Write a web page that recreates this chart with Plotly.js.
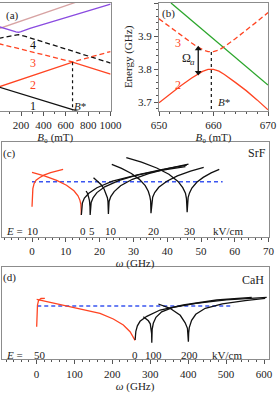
<!DOCTYPE html>
<html><head><meta charset="utf-8">
<script src="https://cdn.plot.ly/plotly-3.0.1.min.js"></script>
<style>html,body{margin:0;padding:0;background:#fff}#plot{width:279px;height:394px}</style>
</head><body><div id="plot"></div>
<script>
// ---------- Panel (a): energy levels vs B0 (mT) ----------
const aPinkB = [0, 1000],            aPinkE = [14.8, 27.5];
const aPurpleB = [0, 100, 155, 176, 200, 280, 1000];
const aPurpleE = [15.5, 14.3, 13.8, 13.65, 13.85, 14.95, 22.95];
const aLevel4B = [0, 120, 176, 230, 1000], aLevel4E = [11.65, 12.55, 12.85, 12.4, 3.5];
const aLevel3B = [0, 660, 1000],     aLevel3E = [9.9, 3.85, 7.3];
const aLevel2B = [0, 660, 1000],     aLevel2E = [-4.4, 3.8, -0.14];
const aLevel1B = [0, 1000],          aLevel1E = [-4.4, -15.7];
const aBstar = 660;
const aTicks = [0, 200, 400, 600, 800, 1000];

// ---------- Panel (b): zoom on the avoided crossing ----------
const bB = [650, 652, 654, 656, 657, 658, 659, 659.6, 660, 661, 662, 664, 666, 668, 670];
const bLevel3 = [3.952, 3.927, 3.902, 3.879, 3.868, 3.859, 3.853, 3.852, 3.853, 3.858, 3.868, 3.892, 3.917, 3.944, 3.971];
const bLevel2 = [3.698, 3.725, 3.750, 3.773, 3.784, 3.793, 3.799, 3.800, 3.799, 3.794, 3.784, 3.760, 3.735, 3.707, 3.677];
const bGreenB = [652.2, 670], bGreenE = [4.0, 3.752];
const bArrowB = 657.2, bArrowTop = 3.862, bArrowBottom = 3.790;
const bYTicks = [3.7, 3.8, 3.9, 4.0], bYText = ['3.7', '3.8', '3.9', '4'];

// ---------- Panel (c): SrF, omega (GHz) ----------
const cRedA_w = [0, 0.08, 0.25, 0.6, 1.2, 2.2, 3.5, 5.5, 7.5, 9.2];
const cRedA_h = [30, 40, 48, 53, 56.5, 59, 61.5, 64, 66, 67.4];
const cRedB_w = [0, 3.65, 7.3, 10.2, 12.4, 13.6, 14.16, 14.45, 14.6];
const cRedB_h = [64.4, 60.9, 56.4, 51.5, 45.9, 40.9, 36.6, 32.4, 21.7];
const cE0_w  = [14.6, 14.9, 15.5, 16.8, 19.2, 23.8, 30.0, 37.7, 45.4];
const cE0_h  = [21.7, 33.8, 38.6, 43.4, 49, 55.5, 60.8, 66, 70];
const cE5_w  = [16.0, 16.4, 16.7, 17.0, 17.15, 17.2, 17.5, 18.1, 19.2, 21.5, 25.8, 31.5, 38.7, 45.8];
const cE5_h  = [45.7, 43.5, 40, 36, 30, 21.7, 34.2, 39.1, 44.1, 49.9, 56.4, 62.1, 67.4, 71.5];
const cE10_w = [18.2, 19.3, 20.4, 21.28, 21.94, 22.3, 22.47, 22.56, 22.6, 22.8, 23.3, 24.3, 26.2, 29.7, 34.5, 40.4, 46.3];
const cE10_h = [59, 56, 52.2, 48, 43.2, 39, 35.4, 31.8, 22.7, 35.2, 40.1, 45.1, 50.9, 57.4, 63.1, 68.4, 72.5];
const cE20_w = [23.6, 26.5, 29.4, 31.7, 33.5, 34.4, 34.85, 35.1, 35.2, 35.4, 35.7, 36.3, 37.5, 39.9, 43.0, 46.9, 50.8];
const cE20_h = [72.4, 68.3, 63.2, 57.6, 51.1, 45.4, 40.5, 35.7, 23.4, 34.9, 39.5, 44.1, 49.4, 55.5, 60.8, 65.6, 69.4];
const cE30_w = [27.9, 32.4, 36.9, 40.5, 43.2, 44.6, 45.4, 45.7, 45.9, 46.0, 46.2, 46.6, 47.3, 48.75, 50.65, 53.0, 55.4];
const cE30_h = [79, 74.5, 68.7, 62.5, 55.3, 49, 43.5, 38.1, 24.4, 35.2, 39.4, 43.8, 48.7, 54.4, 59.3, 63.8, 67.4];
const cBlue_w = [0, 56.4], cBlue_h = [55, 55];
const cFieldLabels = ['10', '0', '5', '10', '20', '30'];

// ---------- Panel (d): CaH, omega (GHz) ----------
const dRedA_w = [0.5, 1.3, 2.6, 5.3, 11.9, 22];
const dRedA_h = [32.6, 44.3, 54.3, 58.8, 60.8, 61];
const dRedB_w = [0.5, 79.7, 167.5, 202.6, 229, 246.7, 255.4, 259.9];
const dRedB_h = [60, 53.3, 46, 40.3, 34.3, 27.6, 22.6, 19];
const dE0_w   = [260, 262, 266, 273, 290.8, 325.9, 387.3, 475.2, 567.5];
const dE0_h   = [19.3, 28, 33.5, 38, 43, 49.3, 54.3, 59.3, 62];
const dE100_w = [281.8, 288, 295, 300, 302.5, 303.5, 304, 305, 308, 315, 330, 360, 420, 500, 607];
const dE100_h = [42.6, 41, 38.5, 35.5, 31, 26, 16.6, 30, 36, 42, 47.5, 52, 56, 59.5, 62];
const dE200_w = [321.4, 352, 379, 392, 398, 399.8, 400.5, 401.2, 403, 409, 420, 445, 490, 550, 603];
const dE200_h = [55.3, 51, 44, 36.5, 31, 25, 17.6, 26, 32, 39, 45, 51, 55.5, 58.7, 61];
const dBlue_w = [2, 519], dBlue_h = [53.3, 53.3];
const dFieldLabels = ['50', '0', '100', '200'];

// ---------- styling ----------
const W = 279, H = 394;
const RED = '#ff4422', BLACK = '#111', GREEN = '#2aa52a', PURPLE = '#8a4be0', PINK = '#d7a3a3', BLUE = '#3a55f0', FRAME = '#8c8c8c';
const FONT = 'Liberation Serif, DejaVu Serif, serif';
const px = (x) => x / W, py = (y) => 1 - y / H;

function line(x, y, xa, ya, color, dash, width) {
  return {x: x, y: y, xaxis: xa, yaxis: ya, type: 'scatter', mode: 'lines',
    line: {color: color, width: width || 1.3, dash: dash || 'solid'}, hoverinfo: 'skip'};
}
const DASH = '5px,3px';
const traces = [
  line(aPinkB, aPinkE, 'x', 'y', PINK),
  line(aPurpleB, aPurpleE, 'x', 'y', PURPLE),
  line(aLevel4B, aLevel4E, 'x', 'y', BLACK, DASH),
  line(aLevel3B, aLevel3E, 'x', 'y', RED, DASH),
  line(aLevel2B, aLevel2E, 'x', 'y', RED),
  line(aLevel1B, aLevel1E, 'x', 'y', BLACK),
  line([aBstar, aBstar], [aLevel2E[1], -12.25], 'x', 'y', BLACK, 'dot', 1.2),

  line(bGreenB, bGreenE, 'x2', 'y2', GREEN),
  line(bB, bLevel3, 'x2', 'y2', RED, DASH),
  line(bB, bLevel2, 'x2', 'y2', RED),
  line([bB[7], bB[7]], [bLevel3[7], 3.674], 'x2', 'y2', BLACK, 'dot', 1.2),
  // double-headed arrow (Omega_a)
  {x: [bArrowB, bArrowB], y: [bArrowBottom, bArrowTop], xaxis: 'x2', yaxis: 'y2', type: 'scatter', mode: 'lines+markers',
   line: {color: '#111', width: 1.3}, marker: {symbol: ['triangle-down', 'triangle-up'], size: 6, color: '#111'}, hoverinfo: 'skip'},

  line(cBlue_w, cBlue_h, 'x3', 'y3', BLUE, '4px,3px', 1.6),
  line(cRedA_w, cRedA_h, 'x3', 'y3', RED),
  line(cRedB_w, cRedB_h, 'x3', 'y3', RED),
  line(cE0_w, cE0_h, 'x3', 'y3', BLACK),
  line(cE5_w, cE5_h, 'x3', 'y3', BLACK),
  line(cE10_w, cE10_h, 'x3', 'y3', BLACK),
  line(cE20_w, cE20_h, 'x3', 'y3', BLACK),
  line(cE30_w, cE30_h, 'x3', 'y3', BLACK),

  line(dBlue_w, dBlue_h, 'x4', 'y4', BLUE, '4px,3px', 1.6),
  line(dRedA_w, dRedA_h, 'x4', 'y4', RED),
  line(dRedB_w, dRedB_h, 'x4', 'y4', RED),
  line(dE0_w, dE0_h, 'x4', 'y4', BLACK),
  line(dE100_w, dE100_h, 'x4', 'y4', BLACK),
  line(dE200_w, dE200_h, 'x4', 'y4', BLACK)
];

const tickFont = {family: FONT, size: 11, color: '#222'};
const titleFont = {family: FONT, size: 11, color: '#222'};
function xax(domain, range, dtick, minor, title, extra) {
  return Object.assign({domain: domain, range: range, dtick: dtick, tick0: 0, ticks: 'outside', ticklen: 4, tickwidth: 1,
    tickcolor: '#555', showline: true, linecolor: FRAME, linewidth: 1, mirror: true, showgrid: false, zeroline: false,
    tickfont: tickFont, minor: {dtick: minor, ticks: 'outside', ticklen: 2, tickcolor: '#555'},
    title: {text: title, font: titleFont, standoff: 3}}, extra || {});
}

const yRowTop = [py(110.8), py(3)];
const B0TITLE = '<i>B</i>₀ (mT)';
const layout = {
  width: W, height: H, margin: {l: 0, r: 0, t: 0, b: 0}, showlegend: false,
  paper_bgcolor: '#fff', plot_bgcolor: 'rgba(0,0,0,0)', font: {family: FONT, color: '#222'},
  xaxis: xax([px(0), px(110.6)], [12, 1000], 200, 100, B0TITLE, {tickvals: aTicks}),
  yaxis: {domain: yRowTop, range: [-12.25, 23.3], side: 'right', showline: true, linecolor: FRAME, ticks: '', showticklabels: false, showgrid: false, zeroline: false, anchor: 'x'},
  xaxis2: xax([px(159), px(268)], [650, 670], 10, 2, B0TITLE, {anchor: 'y2'}),
  yaxis2: {domain: yRowTop, range: [3.674, 4.0], anchor: 'x2', tickvals: bYTicks, ticktext: bYText, ticks: 'outside', ticklen: 4,
    tickcolor: '#555', showline: true, linecolor: FRAME, mirror: true, showgrid: false, zeroline: false, tickfont: tickFont,
    minor: {dtick: 0.02, ticks: 'outside', ticklen: 2, tickcolor: '#555'},
    title: {text: 'Energy (GHz)', font: titleFont, standoff: 3}},
  xaxis3: xax([px(1.6), px(268.6)], [-9, 70], 10, 2, '<i>ω</i> (GHz)', {anchor: 'y3'}),
  yaxis3: {domain: [py(236.7), py(142.3)], range: [0, 94.4], anchor: 'x3', showline: true, mirror: true, linecolor: FRAME, ticks: '', showticklabels: false, showgrid: false, zeroline: false},
  xaxis4: xax([px(1.6), px(268.6)], [-92, 612], 100, 20, '<i>ω</i> (GHz)', {anchor: 'y4'}),
  yaxis4: {domain: [py(359.3), py(267.3)], range: [0, 92], anchor: 'x4', showline: true, mirror: true, linecolor: FRAME, ticks: '', showticklabels: false, showgrid: false, zeroline: false},
  annotations: []
};

function label(x, y, text, color, size, extra) {
  layout.annotations.push(Object.assign({x: px(x), y: py(y), xref: 'paper', yref: 'paper', text: text, showarrow: false,
    font: {family: FONT, size: size || 11, color: color || '#222'}, xanchor: 'center', yanchor: 'middle'}, extra || {}));
}
// panel (a)
label(12, 15, '(a)', '#222', 11);
label(33, 45, '4', BLACK, 12);
label(33, 63, '3', RED, 12);
label(33, 85, '2', RED, 12);
label(33, 106, '1', BLACK, 12);
label(80, 106, '<i>B</i>*', '#222', 11);
// panel (b)
label(168, 13, '(b)', '#222', 11);
label(178, 43, '3', RED, 12);
label(178, 85, '2', RED, 12);
label(186, 58, 'Ω', '#222', 12);
label(192.5, 62, '<i>a</i>', '#222', 9);
label(224, 102, '<i>B</i>*', '#222', 11);
// panel (c)
label(9, 153, '(c)', '#222', 11);
label(257, 153, 'SrF', '#222', 12);
label(14, 231.5, '<i>E</i> =', '#222', 11);
const cLabelX = [33.3, 82.5, 92, 111, 153.5, 190.5];
cFieldLabels.forEach((t, i) => label(cLabelX[i], 231.5, t, '#222', 11));
label(228, 231.5, 'kV/cm', '#222', 11);
// panel (d)
label(9, 277, '(d)', '#222', 11);
label(253, 280, 'CaH', '#222', 12);
label(14, 354.5, '<i>E</i> =', '#222', 11);
const dLabelX = [40, 135, 153, 189.5];
dFieldLabels.forEach((t, i) => label(dLabelX[i], 354.5, t, '#222', 11));
label(227, 354.5, 'kV/cm', '#222', 11);

Plotly.newPlot('plot', traces, layout, {staticPlot: true, displayModeBar: false});
</script></body></html>
